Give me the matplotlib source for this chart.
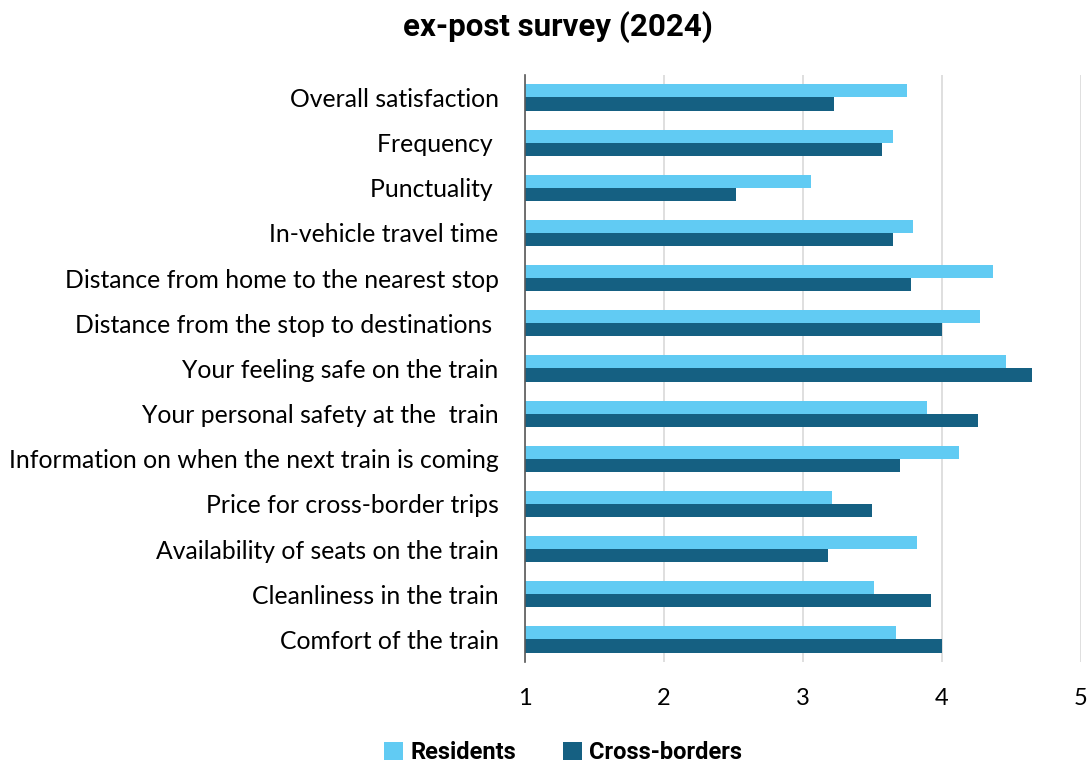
import matplotlib
matplotlib.use("Agg")
import matplotlib.pyplot as plt
import numpy as np

categories = [
    "Overall satisfaction",
    "Frequency ",
    "Punctuality ",
    "In-vehicle travel time",
    "Distance from home to the nearest stop",
    "Distance from the stop to destinations ",
    "Your feeling safe on the train",
    "Your personal safety at the  train",
    "Information on when the next train is coming",
    "Price for cross-border trips",
    "Availability of seats on the train",
    "Cleanliness in the train",
    "Comfort of the train",
]
residents = [3.75, 3.65, 3.06, 3.79, 4.37, 4.27, 4.46, 3.89, 4.12, 3.21, 3.82, 3.51, 3.67]
cross_borders = [3.22, 3.57, 2.52, 3.65, 3.78, 4.00, 4.65, 4.26, 3.70, 3.50, 3.18, 3.92, 4.00]
x_ticks = [1, 2, 3, 4, 5]

c_res = "#61CBF3"
c_cb = "#156082"

fig = plt.figure(figsize=(10.89, 7.64), dpi=100)
ax = fig.add_axes([0.482, 0.1335, 0.5107, 0.7685])

y = np.arange(len(categories))
h = 0.29
base = 1
ax.barh(y - h / 2, np.array(residents) - base, left=base, height=h, color=c_res,
        label="Residents", zorder=3)
ax.barh(y + h / 2, np.array(cross_borders) - base, left=base, height=h, color=c_cb,
        label="Cross-borders", zorder=3)

ax.set_ylim(len(categories) - 0.5, -0.5)
ax.set_xlim(1, 5)
ax.set_xticks(x_ticks)
ax.set_xticklabels([str(t) for t in x_ticks], fontsize=17, family="Lato")
ax.set_yticks(y)
ax.set_yticklabels(categories, fontsize=17.8, family="Lato")
ax.tick_params(axis="both", length=0)
ax.tick_params(axis="x", pad=19)
ax.tick_params(axis="y", pad=19)

ax.grid(axis="x", color="#d9d9d9", linewidth=1.2, zorder=0)
for s in ["top", "right", "bottom"]:
    ax.spines[s].set_visible(False)
ax.spines["left"].set_color("#595959")
ax.spines["left"].set_linewidth(1.2)
ax.spines["left"].set_zorder(4)

fig.text(0.512, 0.964, "ex-post survey (2024)", ha="center", va="center",
         fontsize=22.5, fontweight="bold", family="Roboto")

leg = fig.legend(loc="lower center", bbox_to_anchor=(0.517, -0.028), ncol=2,
                 frameon=False, handlelength=0.8, handleheight=0.8,
                 handletextpad=0.3, columnspacing=2.0,
                 prop={"family": "Roboto", "weight": "bold", "size": 17})

fig.savefig("out.png", dpi=100)
